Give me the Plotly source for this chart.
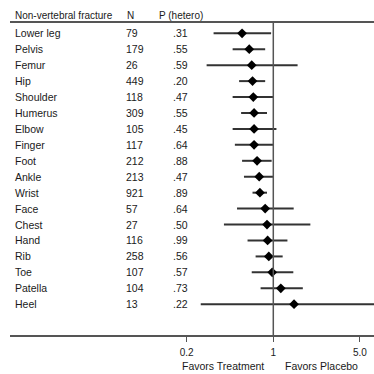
import plotly.graph_objects as go

sites = ["Lower leg", "Pelvis", "Femur", "Hip", "Shoulder", "Humerus", "Elbow", "Finger",
         "Foot", "Ankle", "Wrist", "Face", "Chest", "Hand", "Rib", "Toe", "Patella", "Heel"]
n_vals = [79, 179, 26, 449, 118, 309, 105, 117, 212, 213, 921, 57, 27, 116, 258, 107, 104, 13]
p_hetero = [".31", ".55", ".59", ".20", ".47", ".55", ".45", ".64", ".88", ".47", ".89", ".64",
            ".50", ".99", ".56", ".57", ".73", ".22"]
estimate = [0.56, 0.64, 0.67, 0.68, 0.69, 0.70, 0.70, 0.70, 0.74, 0.77, 0.78, 0.86, 0.89,
            0.90, 0.92, 0.98, 1.15, 1.47]
ci_low = [0.33, 0.47, 0.29, 0.53, 0.47, 0.55, 0.47, 0.49, 0.56, 0.58, 0.68, 0.51, 0.40,
          0.62, 0.72, 0.67, 0.79, 0.26]
ci_high = [0.96, 0.86, 1.57, 0.86, 1.00, 0.89, 1.06, 1.00, 0.97, 1.00, 0.89, 1.46, 1.99,
           1.30, 1.19, 1.45, 1.73, 8.50]
tick_vals = [0.2, 1, 5]
tick_text = ["0.2", "1", "5.0"]

rows = list(range(len(sites)))
TXT = "#1a1a1a"
FONT = "Liberation Sans, Arial, sans-serif"

fig = go.Figure()
fig.add_trace(go.Scatter(
    x=estimate, y=rows, mode="markers",
    marker=dict(symbol="diamond", size=7.5, color="black"),
    error_x=dict(type="data", symmetric=False,
                 array=[h - e for h, e in zip(ci_high, estimate)],
                 arrayminus=[e - l for e, l in zip(estimate, ci_low)],
                 width=0, thickness=2, color="#333333"),
    showlegend=False, hoverinfo="skip"))

L, W = 10, 364


def px(x):
    return (x - L) / W


ann = []
for i, (s, n, p) in enumerate(zip(sites, n_vals, p_hetero)):
    ann.append(dict(x=px(13), y=i, xref="paper", yref="y", text=s, showarrow=False,
                    xanchor="left", yanchor="middle", font=dict(size=10.5, color=TXT, family=FONT)))
    ann.append(dict(x=px(124), y=i, xref="paper", yref="y", text=str(n), showarrow=False,
                    xanchor="left", yanchor="middle", font=dict(size=10.5, color=TXT, family=FONT)))
    ann.append(dict(x=px(171), y=i, xref="paper", yref="y", text=p, showarrow=False,
                    xanchor="left", yanchor="middle", font=dict(size=10.5, color=TXT, family=FONT)))

hdr_y = 1 + 7 / 313
for xx, t in [(13, "Non-vertebral fracture"), (125, "N"), (157, "P (hetero)")]:
    ann.append(dict(x=px(xx), y=hdr_y, xref="paper", yref="paper", text=t, showarrow=False,
                    xanchor="left", yanchor="middle", font=dict(size=10, color=TXT, family=FONT)))

ann.append(dict(x=px(266), y=-31 / 313, xref="paper", yref="paper", text="Favors Treatment",
                showarrow=False, xanchor="right", yanchor="middle",
                font=dict(size=10.5, color=TXT, family=FONT)))
ann.append(dict(x=px(283), y=-31 / 313, xref="paper", yref="paper", text="Favors Placebo",
                showarrow=False, xanchor="left", yanchor="middle",
                font=dict(size=10.5, color=TXT, family=FONT)))

shapes = [
    dict(type="line", xref="paper", yref="paper", x0=0, x1=1, y0=1, y1=1,
         line=dict(color="#555555", width=2)),
    dict(type="line", xref="x", yref="paper", x0=1, x1=1, y0=0, y1=1,
         line=dict(color="#555555", width=1.5)),
]

fig.update_layout(
    width=374, height=374,
    margin=dict(l=L, r=0, t=22, b=39),
    paper_bgcolor="white", plot_bgcolor="white",
    font=dict(family=FONT, color=TXT),
    annotations=ann, shapes=shapes,
    xaxis=dict(type="log", range=[-2.123, 0.812], tickvals=tick_vals, ticktext=tick_text,
               ticks="outside", ticklen=5, tickcolor="#555555", tickwidth=1,
               ticklabelstandoff=2,
               showline=True, linecolor="#555555", linewidth=2,
               showgrid=False, zeroline=False, tickfont=dict(size=10, color=TXT)),
    yaxis=dict(range=[18.93, -0.709], visible=False, showgrid=False, zeroline=False),
)

fig.write_html("out.html")
